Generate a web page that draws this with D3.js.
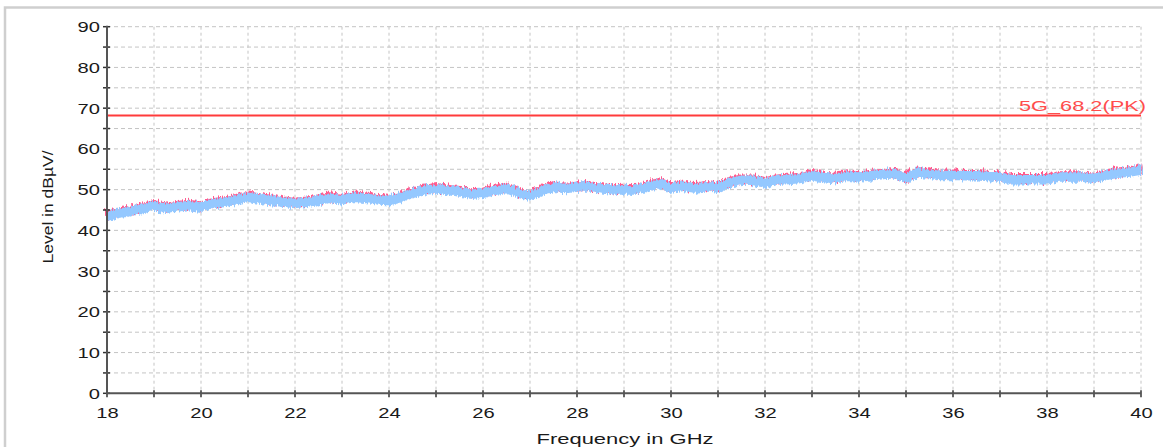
<!DOCTYPE html>
<html><head><meta charset="utf-8">
<script src="https://cdn.jsdelivr.net/npm/d3@7"></script>
<style>
html,body{margin:0;padding:0;background:#fff;}
svg{display:block;font-family:"Liberation Sans",Arial,sans-serif;}
</style></head>
<body><svg id="c" width="1163" height="447"></svg>
<script>
// Frequency (GHz) and measured level (dBµV) – centre of the trace band
const freqs = [18,18.25,18.5,18.75,19,19.25,19.5,19.75,20,20.25,20.5,20.75,21,21.25,21.5,21.75,22,22.25,22.5,22.75,23,23.25,23.5,23.75,24,24.25,24.5,24.75,25,25.25,25.5,25.75,26,26.25,26.5,26.75,27,27.25,27.5,27.75,28,28.25,28.5,28.75,29,29.25,29.5,29.75,30,30.25,30.5,30.75,31,31.25,31.5,31.75,32,32.25,32.5,32.75,33,33.25,33.5,33.75,34,34.25,34.5,34.75,35,35.25,35.5,35.75,36,36.25,36.5,36.75,37,37.25,37.5,37.75,38,38.25,38.5,38.75,39,39.25,39.5,39.75,40];
const level = [43.5,44.2,44.6,45.3,46.0,45.4,45.8,46.1,45.7,46.5,46.9,47.5,48.1,47.7,47.3,46.9,46.6,46.9,47.4,47.9,47.5,48.1,47.9,47.5,47.3,48.1,49.1,49.8,50.2,49.8,49.5,48.9,49.1,49.8,50.3,49.1,48.5,49.8,50.6,50.3,50.6,50.7,50.2,49.9,50.0,49.9,50.7,51.5,50.4,50.8,50.4,50.7,50.4,51.7,52.3,52.3,51.6,52.3,52.5,52.7,53.4,53.0,52.7,53.3,53.1,53.4,53.7,53.9,52.7,54.2,53.7,53.5,53.5,53.4,53.4,53.2,53.1,52.4,52.4,52.4,52.4,53.1,53.1,53.1,52.7,53.5,54.0,54.3,54.8];
const limitValue = 68.2;
const limitLabel = "5G_68.2(PK)";
const xTickLabels = [18,20,22,24,26,28,30,32,34,36,38,40];
const yTickLabels = [0,10,20,30,40,50,60,70,80,90];
const xTitle = "Frequency in GHz";
const yTitle = "Level in dBµV/";

const svg = d3.select("#c");
const L = 107, R = 1141, T = 26.7, B = 393.3;
const x = d3.scaleLinear().domain([18,40]).range([L,R]);
const y = d3.scaleLinear().domain([0,90]).range([B,T]);
const HS = 1.3; // horizontal stretch of the reference's lettering

// outer frame (top & left)
svg.append("path").attr("d","M5,447 V7.5 H1163").attr("fill","none").attr("stroke","#cfcfcf").attr("stroke-width",2.5);

// grid
const g = svg.append("g");
g.selectAll(".vg").data(d3.range(19,41)).enter().append("line")
  .attr("x1",d=>x(d)).attr("x2",d=>x(d)).attr("y1",T).attr("y2",B)
  .attr("stroke","#c4c4c4").attr("stroke-width",1).attr("stroke-dasharray","3,3");
g.selectAll(".hg").data(d3.range(5,95,5)).enter().append("line")
  .attr("x1",L).attr("x2",R).attr("y1",d=>y(d)).attr("y2",d=>y(d))
  .attr("stroke","#c4c4c4").attr("stroke-width",1).attr("stroke-dasharray","4,3");

// trace
const line = d3.line().x((d,i)=>x(freqs[i])).y(d=>y(d)).curve(d3.curveLinear);
const defs = svg.append("defs");
const f = defs.append("filter").attr("id","rough").attr("x","-5%").attr("y","-50%").attr("width","110%").attr("height","200%");
f.append("feTurbulence").attr("type","fractalNoise").attr("baseFrequency","0.8 0.04").attr("numOctaves",2).attr("seed",3).attr("result","n");
f.append("feDisplacementMap").attr("in","SourceGraphic").attr("in2","n").attr("scale",7).attr("xChannelSelector","R").attr("yChannelSelector","G");
const f2 = defs.append("filter").attr("id","rough2").attr("x","-5%").attr("y","-50%").attr("width","110%").attr("height","200%");
f2.append("feTurbulence").attr("type","fractalNoise").attr("baseFrequency","0.6 0.05").attr("numOctaves",2).attr("seed",11).attr("result","n");
f2.append("feDisplacementMap").attr("in","SourceGraphic").attr("in2","n").attr("scale",8).attr("xChannelSelector","R").attr("yChannelSelector","G");

svg.append("path").datum(level).attr("d",line).attr("fill","none")
  .attr("stroke","#ff5c8f").attr("stroke-width",9).attr("transform","translate(0,-1.3)").attr("filter","url(#rough2)");
svg.append("path").datum(level).attr("d",line).attr("fill","none")
  .attr("stroke","#94c8ff").attr("stroke-width",9.5).attr("filter","url(#rough)");

// limit line
svg.append("line").attr("x1",L).attr("x2",R).attr("y1",y(limitValue)).attr("y2",y(limitValue))
  .attr("stroke","#ff3b3b").attr("stroke-width",1.8);
svg.append("text").attr("x",1146).attr("y",y(limitValue)-4).attr("text-anchor","end")
  .attr("fill","#ff4d4d").attr("font-size",14.5)
  .attr("textLength",127).attr("lengthAdjust","spacingAndGlyphs").text(limitLabel);

function stretch(sel){
  sel.each(function(){
    const t = d3.select(this);
    const w = this.getComputedTextLength();
    t.attr("textLength", w*HS).attr("lengthAdjust","spacingAndGlyphs");
  });
}

// axes
const yAxis = d3.axisLeft(y).tickValues(yTickLabels).tickFormat(d3.format("d")).tickSize(0).tickPadding(7);
const ya = svg.append("g").attr("transform",`translate(${L},0)`).call(yAxis);
ya.select(".domain").remove();
ya.selectAll("text").attr("font-size",15.5).attr("fill","#1a1a1a").attr("font-family","Liberation Sans, Arial, sans-serif").call(stretch);
svg.selectAll(".yt").data(d3.range(0,95,5)).enter().append("line")
  .attr("x1",L-4).attr("x2",L+3).attr("y1",d=>y(d)).attr("y2",d=>y(d)).attr("stroke","#333").attr("stroke-width",1.5);

const xAxis = d3.axisBottom(x).tickValues(xTickLabels).tickFormat(d3.format("d")).tickSize(0).tickPadding(14);
const xa = svg.append("g").attr("transform",`translate(0,${B})`).call(xAxis);
xa.select(".domain").remove();
xa.selectAll("text").attr("font-size",15.5).attr("fill","#1a1a1a").attr("font-family","Liberation Sans, Arial, sans-serif").call(stretch);
svg.selectAll(".xt").data(d3.range(18,41,1)).enter().append("line")
  .attr("x1",d=>x(d)).attr("x2",d=>x(d)).attr("y1",B-3).attr("y2",B+4).attr("stroke","#333").attr("stroke-width",1.5);

svg.append("line").attr("x1",L).attr("x2",L).attr("y1",T-1).attr("y2",B+1).attr("stroke","#555").attr("stroke-width",2);
svg.append("line").attr("x1",L-1).attr("x2",R).attr("y1",B).attr("y2",B).attr("stroke","#555").attr("stroke-width",2);

// titles
svg.append("text").attr("transform",`translate(53,207) rotate(-90)`).attr("text-anchor","middle")
  .attr("font-size",14.5).attr("fill","#1a1a1a")
  .attr("textLength",113).attr("lengthAdjust","spacingAndGlyphs").text(yTitle);
svg.append("text").attr("x",625).attr("y",444).attr("text-anchor","middle")
  .attr("font-size",15).attr("fill","#1a1a1a")
  .attr("textLength",177).attr("lengthAdjust","spacingAndGlyphs").text(xTitle);
</script></body></html>
